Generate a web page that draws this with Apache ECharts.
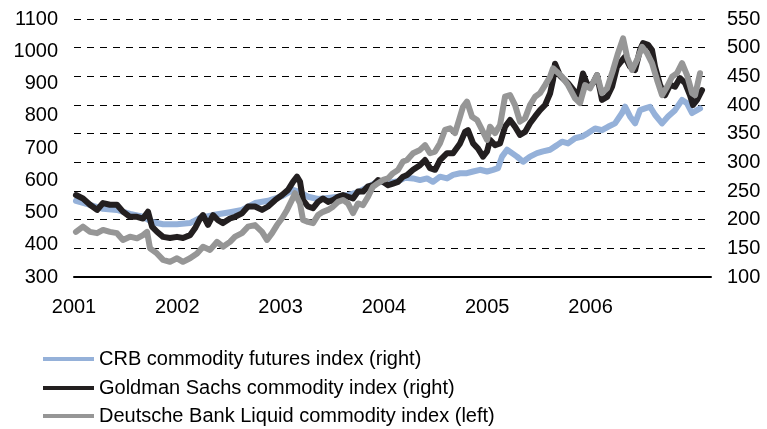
<!DOCTYPE html>
<html>
<head>
<meta charset="utf-8">
<script src="https://cdn.jsdelivr.net/npm/echarts@6/dist/echarts.min.js"></script>
<style>
  html, body { margin: 0; padding: 0; background: #fff; }
  #chart { width: 767px; height: 429px; }
</style>
</head>
<body>
<div id="chart"></div>
<script>
// CRB commodity futures index (right axis)
var crbYears = [2001.019, 2001.155, 2001.281, 2001.416, 2001.542, 2001.668, 2001.755, 2001.862, 2001.997,
  2002.123, 2002.220, 2002.346, 2002.510, 2002.626, 2002.752, 2002.878, 2003.014, 2003.120, 2003.188,
  2003.265, 2003.362, 2003.459, 2003.556, 2003.652, 2003.749, 2003.846, 2003.943, 2004.040, 2004.136,
  2004.204, 2004.282, 2004.349, 2004.417, 2004.475, 2004.543, 2004.611, 2004.669, 2004.737, 2004.804,
  2004.863, 2004.930, 2004.998, 2005.056, 2005.105, 2005.143, 2005.192, 2005.240, 2005.288, 2005.347,
  2005.414, 2005.482, 2005.540, 2005.608, 2005.676, 2005.724, 2005.782, 2005.850, 2005.918, 2005.976,
  2006.044, 2006.111, 2006.169, 2006.237, 2006.305, 2006.334, 2006.382, 2006.431, 2006.479, 2006.528,
  2006.576, 2006.624, 2006.692, 2006.750, 2006.818, 2006.886, 2006.934, 2006.983, 2007.031, 2007.060];
var crbValues = [233, 226, 219, 217, 210, 205, 196, 192, 192,
  194, 203, 208, 213, 217, 229, 233, 241, 252, 248,
  240, 236, 238, 240, 243, 248, 257, 267, 264, 267,
  273, 272, 269, 272, 266, 275, 272, 278, 281, 281,
  284, 287, 284, 287, 290, 310, 322, 316, 310, 301,
  310, 316, 319, 322, 330, 336, 333, 342, 345, 351,
  359, 356, 362, 368, 386, 397, 380, 368, 391, 394,
  397, 383, 368, 380, 391, 409, 403, 386, 391, 394];

// Goldman Sachs commodity index (right axis)
var gsYears = [2001.019, 2001.087, 2001.155, 2001.223, 2001.281, 2001.348, 2001.416, 2001.474, 2001.542,
  2001.610, 2001.668, 2001.716, 2001.755, 2001.803, 2001.862, 2001.929, 2001.997, 2002.055, 2002.123,
  2002.171, 2002.220, 2002.249, 2002.297, 2002.346, 2002.394, 2002.442, 2002.510, 2002.559, 2002.626,
  2002.684, 2002.752, 2002.820, 2002.878, 2002.946, 2003.014, 2003.072, 2003.120, 2003.159, 2003.188,
  2003.217, 2003.265, 2003.314, 2003.362, 2003.410, 2003.459, 2003.507, 2003.556, 2003.604, 2003.652,
  2003.701, 2003.749, 2003.798, 2003.846, 2003.894, 2003.943, 2003.991, 2004.040, 2004.088, 2004.136,
  2004.185, 2004.224, 2004.282, 2004.349, 2004.398, 2004.446, 2004.495, 2004.543, 2004.611, 2004.669,
  2004.737, 2004.785, 2004.814, 2004.863, 2004.911, 2004.959, 2004.998, 2005.027, 2005.076, 2005.124,
  2005.172, 2005.221, 2005.269, 2005.317, 2005.366, 2005.414, 2005.463, 2005.511, 2005.560, 2005.608,
  2005.637, 2005.656, 2005.705, 2005.782, 2005.850, 2005.879, 2005.927, 2005.976, 2006.024, 2006.063,
  2006.111, 2006.160, 2006.208, 2006.257, 2006.305, 2006.334, 2006.382, 2006.431, 2006.479, 2006.508,
  2006.557, 2006.595, 2006.624, 2006.673, 2006.721, 2006.770, 2006.818, 2006.866, 2006.915, 2006.963,
  2006.992, 2007.031, 2007.079];
var gsValues = [243, 237, 226, 217, 229, 226, 226, 214, 205,
  205, 202, 214, 188, 179, 170, 168, 170, 168, 173,
  185, 202, 208, 191, 208, 199, 194, 202, 205, 211,
  223, 223, 217, 223, 234, 243, 252, 266, 275, 266,
  234, 223, 220, 231, 237, 231, 234, 240, 243, 240,
  237, 249, 249, 258, 260, 269, 266, 260, 263, 266,
  275, 278, 287, 295, 304, 290, 287, 304, 316, 316,
  333, 353, 356, 333, 324, 310, 319, 339, 330, 333,
  362, 374, 362, 348, 353, 368, 380, 391, 400, 420,
  444, 472, 451, 438, 423, 414, 455, 432, 438, 452,
  409, 414, 432, 467, 478, 484, 467, 461, 496, 508,
  505, 496, 467, 435, 417, 435, 432, 447, 438, 417,
  400, 409, 426];

// Deutsche Bank Liquid commodity index (left axis)
var dbYears = [2001.019, 2001.087, 2001.155, 2001.223, 2001.281, 2001.348, 2001.416, 2001.474, 2001.542,
  2001.610, 2001.668, 2001.707, 2001.736, 2001.803, 2001.862, 2001.929, 2001.997, 2002.055, 2002.123,
  2002.191, 2002.249, 2002.317, 2002.384, 2002.442, 2002.510, 2002.559, 2002.626, 2002.684, 2002.752,
  2002.820, 2002.868, 2002.917, 2002.965, 2003.014, 2003.062, 2003.110, 2003.139, 2003.188, 2003.217,
  2003.265, 2003.314, 2003.362, 2003.410, 2003.459, 2003.507, 2003.556, 2003.604, 2003.652, 2003.701,
  2003.749, 2003.798, 2003.846, 2003.894, 2003.943, 2003.991, 2004.040, 2004.088, 2004.136, 2004.185,
  2004.224, 2004.282, 2004.349, 2004.398, 2004.446, 2004.495, 2004.543, 2004.591, 2004.640, 2004.688,
  2004.737, 2004.766, 2004.804, 2004.853, 2004.901, 2004.950, 2004.998, 2005.027, 2005.076, 2005.124,
  2005.172, 2005.221, 2005.269, 2005.317, 2005.366, 2005.414, 2005.463, 2005.511, 2005.560, 2005.608,
  2005.637, 2005.676, 2005.724, 2005.782, 2005.850, 2005.898, 2005.947, 2005.995, 2006.063, 2006.111,
  2006.160, 2006.218, 2006.266, 2006.315, 2006.353, 2006.402, 2006.450, 2006.499, 2006.547, 2006.595,
  2006.644, 2006.692, 2006.741, 2006.789, 2006.837, 2006.886, 2006.934, 2006.983, 2007.012, 2007.060];
var dbValues = [440, 456, 440, 436, 446, 440, 436, 415, 425,
  420, 430, 440, 389, 373, 353, 347, 358, 347, 358,
  373, 394, 384, 409, 394, 409, 425, 436, 456, 461,
  440, 415, 436, 461, 482, 508, 539, 560, 528, 477,
  471, 467, 492, 502, 508, 518, 533, 539, 528, 498,
  528, 523, 549, 580, 591, 601, 606, 622, 632, 658,
  663, 684, 694, 709, 684, 689, 715, 756, 761, 746,
  797, 828, 844, 797, 787, 756, 725, 766, 746, 771,
  859, 864, 833, 782, 792, 833, 859, 870, 895, 921,
  947, 936, 921, 895, 854, 839, 895, 885, 926, 870,
  885, 942, 994, 1040, 983, 942, 973, 1014, 994, 963,
  911, 864, 890, 921, 932, 963, 926, 870, 864, 932];

var seriesNames = ['CRB commodity futures index (right)',
  'Goldman Sachs commodity index (right)',
  'Deutsche Bank Liquid commodity index (left)'];
var seriesColors = ['#95b1d9', '#231f20', '#969696'];
var lastYearLabel = 2006;

var font = 'Liberation Sans, Arial, sans-serif';

function pairs(xs, ys) {
  return xs.map(function (x, i) { return [x, ys[i]]; });
}

function lineSeries(idx, axis, xs, ys) {
  return {
    name: seriesNames[idx],
    type: 'line',
    yAxisIndex: axis,
    showSymbol: false,
    symbol: 'none',
    data: pairs(xs, ys),
    lineStyle: { color: seriesColors[idx], width: 6, join: 'round', cap: 'round' },
    itemStyle: { color: seriesColors[idx] },
    z: 2 + idx
  };
}

// one legend per row so the rows stay in a single column
function legendRow(idx, top) {
  return {
    orient: 'vertical',
    left: 38,
    top: top,
    icon: 'rect',
    itemWidth: 51,
    itemHeight: 4,
    textStyle: { fontFamily: font, fontSize: 20, color: '#000' },
    data: [seriesNames[idx]]
  };
}

var plainNum = function (v) { return String(v); };

var myChart = echarts.init(document.getElementById('chart'));

option = {
  animation: false,
  backgroundColor: '#fff',
  grid: {
    left: 74,
    right: 56,
    top: 19,
    bottom: 152,
    containLabel: false,
    outerBoundsMode: 'none'
  },
  legend: [
    legendRow(0, 344),
    legendRow(1, 373),
    legendRow(2, 401)
  ],
  xAxis: {
    type: 'value',
    min: 2001,
    max: 2007.166,
    interval: 1,
    axisLine: { show: true, onZero: false, lineStyle: { color: '#000', width: 2 } },
    axisTick: { show: false },
    splitLine: { show: false },
    axisLabel: {
      margin: 20,
      fontFamily: font,
      fontSize: 20,
      color: '#000',
      showMaxLabel: false,
      formatter: function (v) { return v <= lastYearLabel ? String(v) : ''; }
    }
  },
  yAxis: [
    {
      type: 'value',
      position: 'left',
      min: 300,
      max: 1100,
      interval: 100,
      axisLine: { show: false },
      axisTick: { show: false },
      splitLine: { show: false },
      axisLabel: { margin: 16, fontFamily: font, fontSize: 20, color: '#000', formatter: plainNum }
    },
    {
      type: 'value',
      position: 'right',
      min: 100,
      max: 550,
      interval: 50,
      axisLine: { show: false },
      axisTick: { show: false },
      splitLine: { show: true, lineStyle: { color: '#000', width: 1, type: [7, 6] } },
      axisLabel: { margin: 16, fontFamily: font, fontSize: 20, color: '#000', formatter: plainNum }
    }
  ],
  series: [
    lineSeries(0, 1, crbYears, crbValues),
    lineSeries(1, 1, gsYears, gsValues),
    lineSeries(2, 0, dbYears, dbValues)
  ]
};

myChart.setOption(option);

window.addEventListener('resize', function () {
  myChart.resize();
});
</script>
</body>
</html>
